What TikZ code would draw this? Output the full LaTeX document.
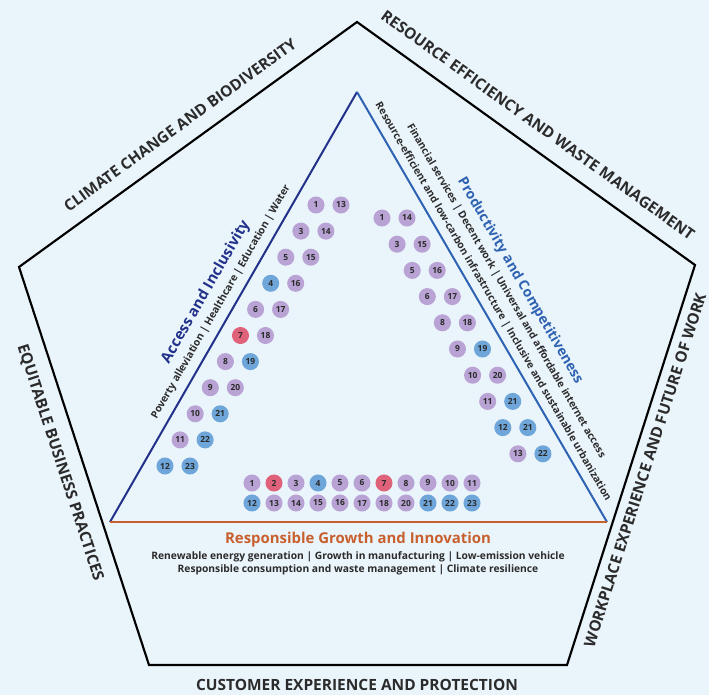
\documentclass[tikz,border=0pt]{standalone}
\usepackage{fontspec}
\setmainfont{Open Sans}
\definecolor{bg}{HTML}{EAF4FB}
\definecolor{navy}{HTML}{22318A}
\definecolor{tblue}{HTML}{2E62B2}
\definecolor{torange}{HTML}{C8602E}
\definecolor{cpur}{HTML}{B9A2D4}
\definecolor{cblu}{HTML}{6EA6DA}
\definecolor{cred}{HTML}{E0627A}
\definecolor{txt}{HTML}{2B2B2B}
\begin{document}
\begin{tikzpicture}[x=0.75pt,y=-0.75pt,
  sdg/.style={circle,minimum size=12.8pt,inner sep=0pt,text=txt,
    font=\fontsize{6.3}{6.3}\selectfont\bfseries},
  sp/.style={sdg,fill=cpur}, sb/.style={sdg,fill=cblu}, sr/.style={sdg,fill=cred},
  pentlabel/.style={font=\fontsize{11.6}{14}\selectfont\bfseries,text=txt,inner sep=0pt},
  pillar/.style={font=\fontsize{11.2}{13}\selectfont\bfseries,inner sep=0pt},
  subtext/.style={font=\fontsize{7.7}{9.75}\selectfont\bfseries,text=txt,inner sep=0pt}]
\path[use as bounding box, fill=bg] (0,0) rectangle (709,695);
% pentagon
\coordinate (P1) at (357,22);
\coordinate (P2) at (695,265);
\coordinate (P3) at (567,665);
\coordinate (P4) at (149,665);
\coordinate (P5) at (19,267);
\draw[line width=1.6pt, line join=miter] (P1) -- (P2) -- (P3) -- (P4) -- (P5) -- cycle;
% triangle
\coordinate (TA) at (357,92);
\coordinate (TL) at (110,522);
\coordinate (TR) at (607,522);
\draw[navy, line width=1.5pt] (TL) -- (TA);
\draw[tblue, line width=1.5pt] (TA) -- (TR);
\draw[torange, line width=1.5pt] (TL) -- (TR);
% pentagon labels
\node[pentlabel, rotate=35.9] (lclim) at (180,125) {CLIMATE CHANGE AND BIODIVERSITY};
\node[pentlabel, rotate=-35.7] (lres) at (538,125) {RESOURCE EFFICIENCY AND WASTE MANAGEMENT};
\node[pentlabel, rotate=72.3] (lwork) at (645,470) {WORKPLACE EXPERIENCE AND FUTURE OF WORK};
\node[pentlabel, rotate=-71.9] (lequ) at (60,463) {EQUITABLE BUSINESS PRACTICES};
\node[pentlabel] (lcust) at (357,685) {CUSTOMER EXPERIENCE AND PROTECTION};
% pillar labels
\node[pillar, text=navy, rotate=60.1] (tacc) at (206,292) {Access and Inclusivity};
\node[subtext, rotate=60.1] (sacc) at (221,302) {Poverty alleviation | Healthcare | Education | Water};
\node[pillar, text=tblue, rotate=-59.8, font=\fontsize{10.5}{13}\selectfont\bfseries] (tprod) at (520,281) {Productivity and Competitiveness};
\node[subtext, rotate=-59.8] (sprod1) at (506,291) {Financial services | Decent work | Universal and affordable internet access};
\node[subtext, rotate=-59.8] (sprod2) at (493,302) {Resource-efficient and low-carbon infrastructure | Inclusive and sustainable urbanization};
\node[pillar, text=torange] (tresp) at (358,540) {Responsible Growth and Innovation};
\node[subtext, align=center] (sresp) at (358,563.5) {Renewable energy generation | Growth in manufacturing | Low-emission vehicle\\Responsible consumption and waste management | Climate resilience};
% left group
\foreach \a/\ca/\b/\cb [count=\i from 0] in {1/sp/13/sp, 3/sp/14/sp, 5/sp/15/sp, 4/sb/16/sp, 6/sp/17/sp, 7/sr/18/sp, 8/sp/19/sb, 9/sp/20/sp, 10/sp/21/sb, 11/sp/22/sb, 12/sb/23/sb}{
  \node[\ca] (L\i-a) at ({316-15.1*\i},{205+26.1*\i}) {\a};
  \node[\cb] (L\i-b) at ({341-15.1*\i},{205+26.1*\i}) {\b};
}
% right group
\foreach \a/\ca/\b/\cb [count=\i from 0] in {1/sp/14/sp, 3/sp/15/sp, 5/sp/16/sp, 6/sp/17/sp, 8/sp/18/sp, 9/sp/19/sb, 10/sp/20/sp, 11/sp/21/sb, 12/sb/21/sb, 13/sp/22/sb}{
  \node[\ca] (R\i-a) at ({382+15.1*\i},{218+26.2*\i}) {\a};
  \node[\cb] (R\i-b) at ({407+15.1*\i},{218+26.2*\i}) {\b};
}
% bottom group
\foreach \a/\ca/\b/\cb [count=\i from 0] in {1/sp/12/sb, 2/sr/13/sp, 3/sp/14/sp, 4/sb/15/sp, 5/sp/16/sp, 6/sp/17/sp, 7/sr/18/sp, 8/sp/20/sp, 9/sp/21/sb, 10/sp/22/sb, 11/sp/23/sb}{
  \node[\ca] (B\i-a) at ({252+22*\i},483) {\a};
  \node[\cb] (B\i-b) at ({252+22*\i},503) {\b};
}
\end{tikzpicture}
\end{document}
